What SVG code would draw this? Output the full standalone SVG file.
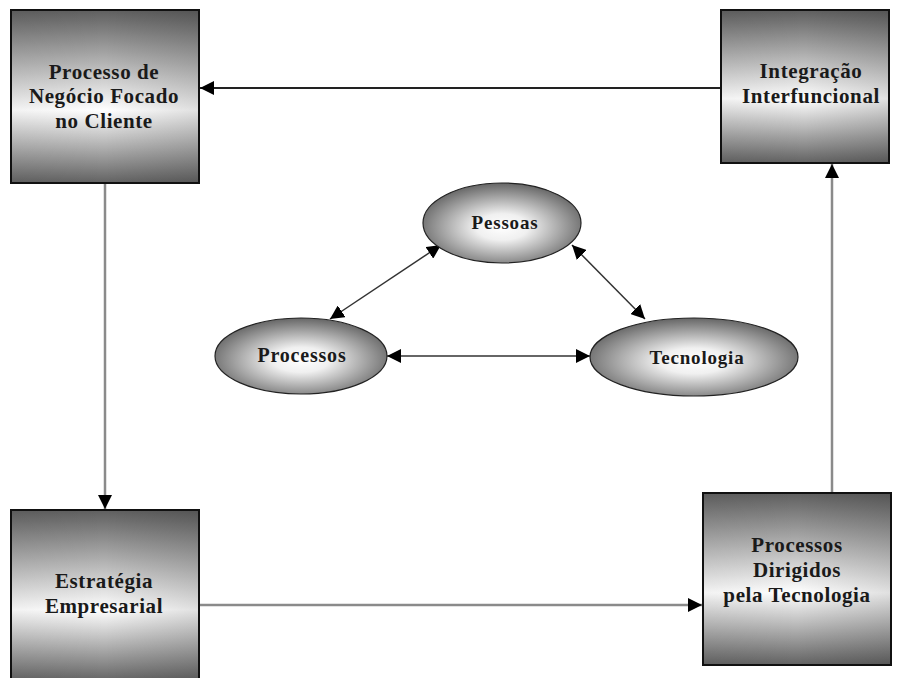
<svg xmlns="http://www.w3.org/2000/svg" width="898" height="678" viewBox="0 0 898 678">
<defs>
<linearGradient id="boxg" x1="0" y1="0" x2="0" y2="1">
<stop offset="0" stop-color="#5f5f5f"/>
<stop offset="0.58" stop-color="#ffffff"/>
<stop offset="1" stop-color="#626262"/>
</linearGradient>
<linearGradient id="boxh" x1="0" y1="0" x2="1" y2="0">
<stop offset="0" stop-color="#000" stop-opacity="0.05"/>
<stop offset="0.5" stop-color="#000" stop-opacity="0"/>
<stop offset="1" stop-color="#000" stop-opacity="0.12"/>
</linearGradient>
<radialGradient id="ellg" cx="0.5" cy="0.55" r="0.55">
<stop offset="0" stop-color="#ffffff"/>
<stop offset="0.3" stop-color="#f0f0f0"/>
<stop offset="1" stop-color="#666666"/>
</radialGradient>
<marker id="ahb" viewBox="0 0 10 10" refX="10" refY="5" markerWidth="14" markerHeight="14" markerUnits="userSpaceOnUse" orient="auto-start-reverse">
<path d="M0,0 L10,5 L0,10 z" fill="#000"/>
</marker>
</defs>
<style>
.box{fill:url(#boxg);stroke:#111;stroke-width:2}
.shade{fill:url(#boxh);stroke:none}
.ell{fill:url(#ellg);stroke:#222;stroke-width:1.2}
text{font-family:"Liberation Serif","Times New Roman",serif;font-weight:bold;font-size:21px;fill:#1a1a1a;text-anchor:middle;letter-spacing:0.6px}
.small{font-size:19px;letter-spacing:0.8px}
.lineDark{stroke:#222;stroke-width:2;fill:none}
.lineGray{stroke:#8a8a8a;stroke-width:2.5;fill:none}
.lineThin{stroke:#333;stroke-width:1.5;fill:none}
</style>
<rect width="898" height="678" fill="#ffffff"/>
<g id="connectors">
<line class="lineDark" x1="721" y1="88" x2="200" y2="88" marker-end="url(#ahb)"/>
<line class="lineGray" x1="105" y1="184" x2="105" y2="509" marker-end="url(#ahb)"/>
<line class="lineGray" x1="200" y1="605" x2="702" y2="605" marker-end="url(#ahb)"/>
<line class="lineGray" x1="832" y1="492" x2="832" y2="164" marker-end="url(#ahb)"/>
<line class="lineThin" x1="330" y1="319" x2="441" y2="245" marker-start="url(#ahb)" marker-end="url(#ahb)"/>
<line class="lineThin" x1="572" y1="245" x2="645" y2="319" marker-start="url(#ahb)" marker-end="url(#ahb)"/>
<line class="lineThin" x1="387" y1="356" x2="590" y2="356" marker-start="url(#ahb)" marker-end="url(#ahb)"/>
</g>
<g id="node-cliente">
<rect class="box" x="11" y="10" width="188" height="173"/>
<rect class="shade" x="12" y="11" width="186" height="171"/>
<text x="104" y="79">Processo de</text>
<text x="104" y="103">Negócio Focado</text>
<text x="104" y="128">no Cliente</text>
</g>
<g id="node-integracao">
<rect class="box" x="721" y="10" width="168" height="153"/>
<rect class="shade" x="722" y="11" width="166" height="151"/>
<text x="811" y="78">Integração</text>
<text x="811" y="103">Interfuncional</text>
</g>
<g id="node-estrategia">
<rect class="box" x="11" y="510" width="188" height="172"/>
<rect class="shade" x="12" y="511" width="186" height="170"/>
<text x="104" y="588">Estratégia</text>
<text x="104" y="613">Empresarial</text>
</g>
<g id="node-dirigidos">
<rect class="box" x="703" y="493" width="188" height="172"/>
<rect class="shade" x="704" y="494" width="186" height="170"/>
<text x="797" y="552">Processos</text>
<text x="797" y="577">Dirigidos</text>
<text x="797" y="602">pela Tecnologia</text>
</g>
<g id="node-pessoas">
<ellipse class="ell" cx="502" cy="223" rx="79" ry="40"/>
<text class="small" x="505" y="229">Pessoas</text>
</g>
<g id="node-processos">
<ellipse class="ell" cx="301" cy="356" rx="86" ry="38"/>
<text class="small" x="302" y="362" style="font-size:20px">Processos</text>
</g>
<g id="node-tecnologia">
<ellipse class="ell" cx="694" cy="357" rx="104" ry="39"/>
<text class="small" x="697" y="364">Tecnologia</text>
</g>
</svg>
